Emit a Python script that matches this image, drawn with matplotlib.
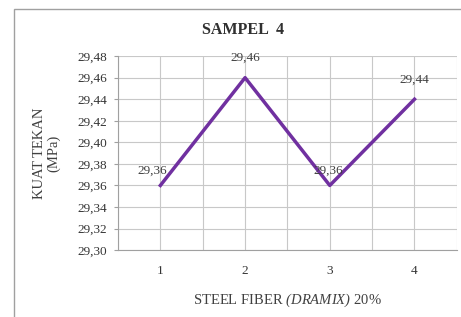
import matplotlib
matplotlib.use('Agg')
import matplotlib.pyplot as plt
from matplotlib.patches import Rectangle
from matplotlib.ticker import FuncFormatter

plt.rcParams['font.family'] = 'Liberation Serif'
plt.rcParams['mathtext.fontset'] = 'custom'
plt.rcParams['mathtext.it'] = 'Liberation Serif:italic'
plt.rcParams['mathtext.rm'] = 'Liberation Serif:italic'

sampel = [1, 2, 3, 4]
kuat_tekan = [29.36, 29.46, 29.36, 29.44]
label_teks = ['29,36', '29,46', '29,36', '29,44']
y_ticks = [29.30, 29.32, 29.34, 29.36, 29.38, 29.40, 29.42, 29.44, 29.46, 29.48]

fig = plt.figure(figsize=(4.61, 3.17), dpi=100)
ax = fig.add_axes([0.256, 0.211, 0.735, 0.612])

# chart border
fig.patches.append(Rectangle((14 / 461, -0.05), 1.0, 1 - 9 / 317 + 0.05,
                             transform=fig.transFigure, fill=False,
                             edgecolor='#a0a0a0', linewidth=1))

ax.plot(sampel, kuat_tekan, color='#7030a0', linewidth=2.5, zorder=3)

offsets = [(-6, 6), (0, 10), (-1, 6), (0, 10)]
for x, y, t, off in zip(sampel, kuat_tekan, label_teks, offsets):
    ax.annotate(t, (x, y), xytext=off, textcoords='offset points',
                ha='center', va='bottom', fontsize=9.5, color='#404040', zorder=4)

ax.set_xlim(0.5, 4.5)
ax.set_ylim(29.30, 29.48)
ax.set_xticks(sampel)
ax.set_xticks([0.5, 1.5, 2.5, 3.5, 4.5], minor=True)
ax.set_yticks(y_ticks)
ax.yaxis.set_major_formatter(FuncFormatter(lambda v, p: f'{v:.2f}'.replace('.', ',')))

ax.grid(True, which='both', color='#c8c8c8', linewidth=0.8)
ax.set_axisbelow(True)
for s in ['top', 'right']:
    ax.spines[s].set_visible(False)
ax.spines['left'].set_color('#a0a0a0')
ax.spines['bottom'].set_color('#a0a0a0')
ax.tick_params(axis='both', which='both', length=0, labelsize=9.5, colors='#353535')
ax.tick_params(axis='y', length=3, color='#a0a0a0', pad=5)
ax.tick_params(axis='x', pad=11)

fig.text(243 / 461, 1 - 30 / 317, 'SAMPEL  4', fontsize=11.5, fontweight='bold',
         color='#303030', ha='center', va='center')
ax.set_xlabel(r'STEEL FIBER $(DRAMIX)$ 20%', fontsize=10.5,
              color='#404040', labelpad=10)
ax.set_ylabel('KUAT TEKAN\n(MPa)', fontsize=10.5, color='#404040',
              labelpad=12, linespacing=1.05)

fig.savefig('out.png', dpi=100)
